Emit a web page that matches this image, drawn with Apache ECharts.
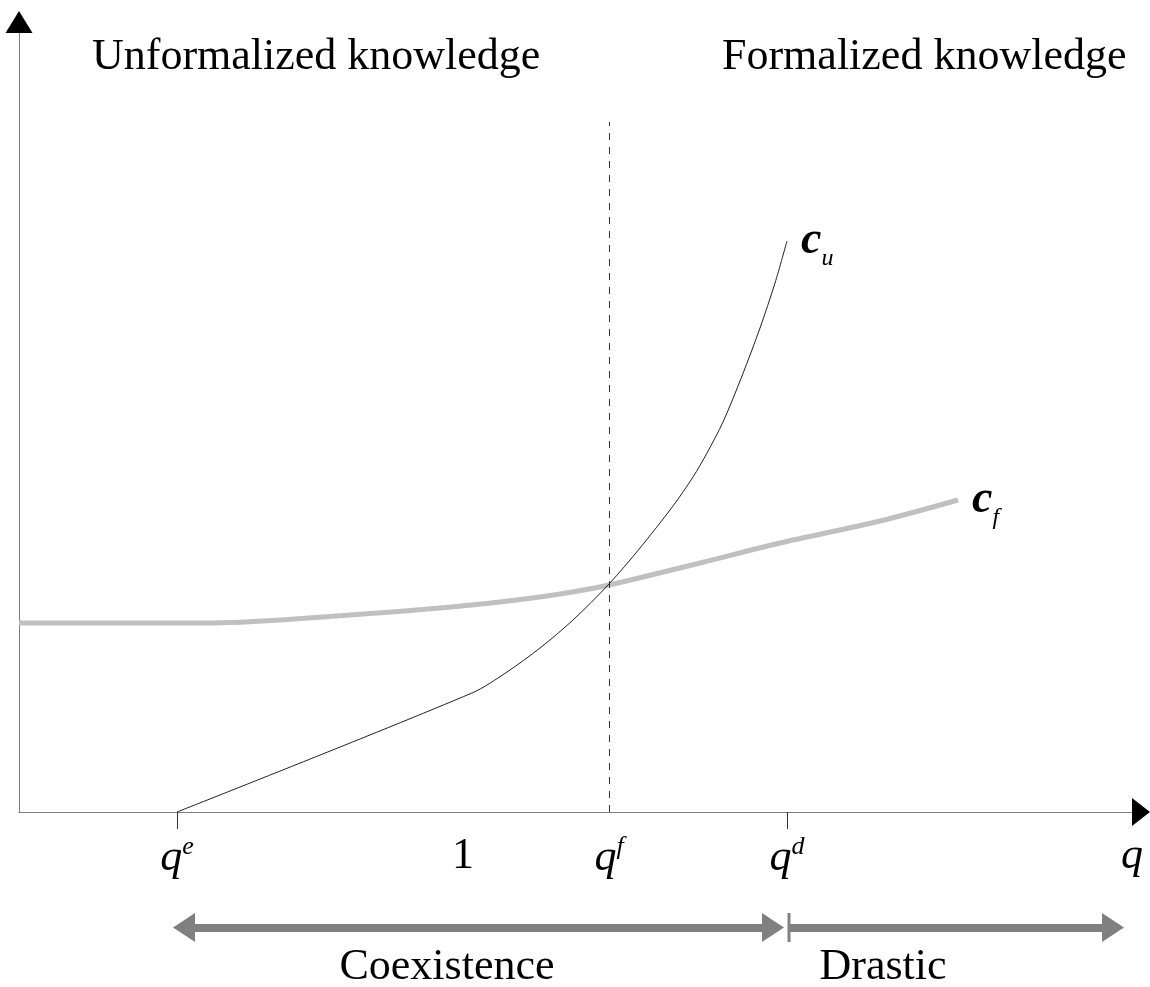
<!DOCTYPE html>
<html>
<head>
<meta charset="utf-8">
<script src="https://cdn.jsdelivr.net/npm/echarts@6/dist/echarts.min.js"></script>
<style>
  html, body { margin: 0; padding: 0; background: #fff; }
  #chart { width: 1150px; height: 987px; }
</style>
</head>
<body>
<div id="chart"></div>
<script>
// x in q-units (pixel-like scale), y in cost units
const cuX = [177, 472, 507, 540, 573, 609, 640, 673, 693, 707, 723, 742, 760, 775, 787];
const cuY = [0, 119, 140, 164, 192, 228, 264, 306, 335, 359, 390, 436, 484, 529, 571];
const cfX = [19, 213, 350, 440, 500, 560, 609, 700, 780, 880, 958];
const cfY = [189, 189, 197, 204, 210, 218, 227, 249, 269, 291, 312];

const tickValues = [177, 463, 609, 787, 1132];
const tickBase = ['q', '1', 'q', 'q', 'q'];
const tickSup = ['e', '', 'f', 'd', ''];
const tickMarks = [177, 787];
const qfTop = 690;

const regionNames = ['Coexistence', 'Drastic'];
const regionCenters = [447, 883];
const coexist = [184, 773];
const drastic = [789, 1113];

const serif = '"Liberation Serif", "DejaVu Serif", serif';

const chart = echarts.init(document.getElementById('chart'));

function pairs(xs, ys) {
  return xs.map((x, i) => [x, ys[i]]);
}

chart.setOption({
  animation: false,
  grid: [
    { left: 19, right: 9, top: 22, bottom: 175, outerBoundsMode: 'none' },
    { left: 19, right: 9, top: 915, height: 25, outerBoundsMode: 'none' }
  ],
  xAxis: [
    {
      type: 'value', gridIndex: 0, min: 19, max: 1141,
      splitLine: { show: false },
      axisLine: {
        show: true,
        symbol: ['none', 'triangle'],
        symbolSize: [28, 18],
        lineStyle: { color: '#000', width: 1, opacity: 0.5 }
      },
      axisTick: {
        show: true, customValues: tickMarks, length: 17,
        lineStyle: { color: '#333', width: 1 }
      },
      axisLabel: {
        show: true,
        customValues: tickValues,
        margin: 22,
        formatter: function (v) {
          const i = tickValues.indexOf(v);
          if (i < 0) return '';
          const b = tickBase[i] === 'q' ? '{q|q}' : '{n|' + tickBase[i] + '}';
          return tickSup[i] ? b + '{s|' + tickSup[i] + '}' : b;
        },
        rich: {
          q: { fontFamily: serif, fontStyle: 'italic', fontSize: 44, color: '#000' },
          n: { fontFamily: serif, fontSize: 44, color: '#000' },
          s: { fontFamily: serif, fontStyle: 'italic', fontSize: 26, color: '#000', padding: [0, 0, 22, 0] }
        }
      }
    },
    {
      type: 'value', gridIndex: 1, min: 19, max: 1141,
      splitLine: { show: false },
      axisLine: { show: false },
      axisTick: { show: false },
      axisLabel: {
        show: true,
        customValues: regionCenters,
        margin: 5,
        formatter: function (v) {
          const i = regionCenters.indexOf(v);
          return i < 0 ? '' : regionNames[i];
        },
        fontFamily: serif, fontSize: 44, color: '#000'
      }
    }
  ],
  yAxis: [
    {
      type: 'value', gridIndex: 0, min: 0, max: 790,
      splitLine: { show: false },
      axisLine: {
        show: true,
        symbol: ['none', 'triangle'],
        symbolSize: [27, 22],
        lineStyle: { color: '#000', width: 1, opacity: 0.5 }
      },
      axisTick: { show: false },
      axisLabel: { show: false }
    },
    {
      type: 'value', gridIndex: 1, min: 0, max: 1, show: false
    }
  ],
  graphic: [
    {
      type: 'text', left: 92, top: 35,
      style: { text: 'Unformalized knowledge', font: '44px ' + serif, fill: '#000' }
    },
    {
      type: 'text', left: 722, top: 35,
      style: { text: 'Formalized knowledge', font: '44px ' + serif, fill: '#000' }
    }
  ],
  series: [
    {
      name: 'cf', type: 'line', xAxisIndex: 0, yAxisIndex: 0,
      data: pairs(cfX, cfY),
      smooth: 0.3,
      showSymbol: false, symbol: 'none',
      lineStyle: { color: '#c0c0c0', width: 5 },
      endLabel: {
        show: true, distance: 14,
        formatter: '{c|c}{s|f}',
        rich: {
          c: { fontFamily: serif, fontStyle: 'italic', fontWeight: 'bold', fontSize: 46, color: '#000' },
          s: { fontFamily: serif, fontStyle: 'italic', fontSize: 24, color: '#000', padding: [36, 0, 0, 0] }
        }
      },
      z: 2
    },
    {
      name: 'cu', type: 'line', xAxisIndex: 0, yAxisIndex: 0,
      data: pairs(cuX, cuY),
      smooth: 0.3,
      showSymbol: false, symbol: 'none',
      lineStyle: { color: '#222', width: 1 },
      endLabel: {
        show: true, distance: 14,
        formatter: '{c|c}{s|u}',
        rich: {
          c: { fontFamily: serif, fontStyle: 'italic', fontWeight: 'bold', fontSize: 46, color: '#000' },
          s: { fontFamily: serif, fontStyle: 'italic', fontSize: 24, color: '#000', padding: [36, 0, 0, 0] }
        }
      },
      markLine: {
        silent: true, symbol: 'none',
        label: { show: false },
        lineStyle: { color: '#333', width: 1, type: [7, 7] },
        data: [[{ coord: [tickValues[2], 0] }, { coord: [tickValues[2], qfTop] }]]
      },
      z: 3
    },
    {
      name: 'regions', type: 'line', xAxisIndex: 1, yAxisIndex: 1,
      data: [[coexist[0], 0.5], [drastic[1], 0.5]],
      showSymbol: false, symbol: 'none',
      lineStyle: { opacity: 0 },
      markLine: {
        silent: true,
        label: { show: false },
        lineStyle: { color: '#808080', width: 8, type: 'solid' },
        data: [
          [
            { coord: [coexist[0], 0.5], symbol: 'triangle', symbolSize: [29, 22] },
            { coord: [coexist[1], 0.5], symbol: 'triangle', symbolSize: [29, 22] }
          ],
          [
            { coord: [drastic[0], 0.5], symbol: 'rect', symbolSize: [29, 3] },
            { coord: [drastic[1], 0.5], symbol: 'triangle', symbolSize: [29, 22] }
          ]
        ]
      }
    }
  ]
});
</script>
</body>
</html>
